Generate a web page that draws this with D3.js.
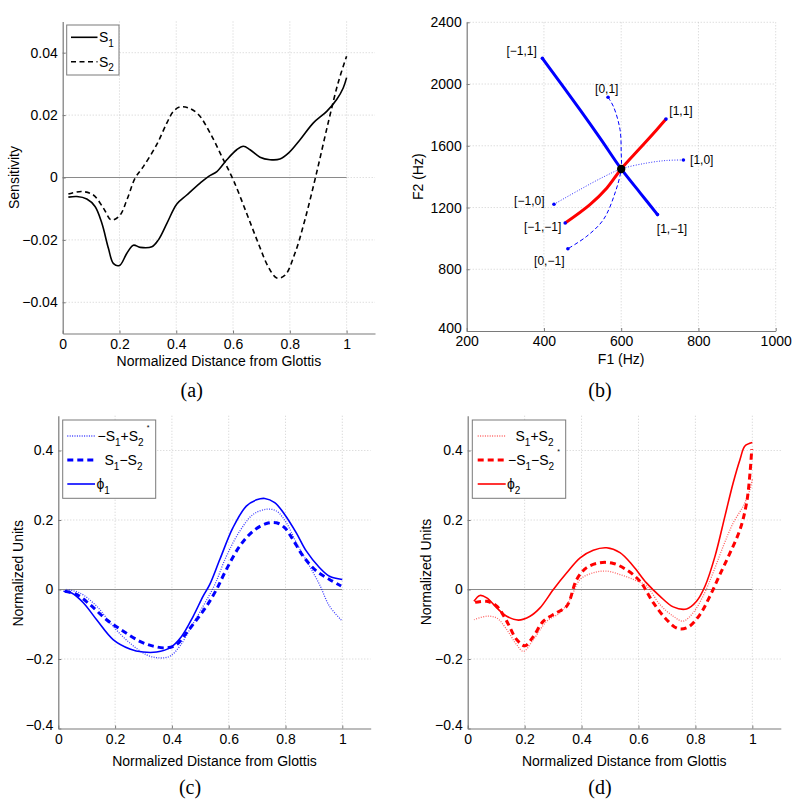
<!DOCTYPE html>
<html><head><meta charset="utf-8">
<script src="https://cdn.jsdelivr.net/npm/d3@7"></script>
<style>body{margin:0;background:#fff} svg text{font-family:"Liberation Sans",Arial,Helvetica,sans-serif}</style>
</head><body><svg id="c" width="800" height="804"></svg>
<script>
// ---------- DATA ----------
// Panel (a): sensitivity functions
const s1X = [0.02,0.05,0.085,0.114,0.138,0.161,0.179,0.2,0.226,0.249,0.273,0.314,0.337,0.367,0.402,0.437,0.484,0.513,0.543,0.578,0.613,0.636,0.66,0.695,0.73,0.765,0.795,0.836,0.883,0.93,0.965,0.988,1.0];
const s1Y = [-0.0063,-0.0061,-0.0069,-0.0093,-0.0147,-0.0227,-0.0276,-0.0282,-0.0243,-0.0217,-0.0224,-0.0222,-0.0200,-0.0147,-0.0085,-0.0056,-0.0018,0.0003,0.0019,0.0057,0.0089,0.0100,0.0089,0.0065,0.0057,0.0059,0.0078,0.0121,0.0175,0.0212,0.0250,0.0287,0.032];
const s2X = [0.02,0.067,0.108,0.144,0.171,0.2,0.226,0.255,0.284,0.331,0.367,0.39,0.413,0.443,0.478,0.519,0.56,0.601,0.648,0.689,0.724,0.754,0.783,0.818,0.853,0.894,0.935,0.97,1.0];
const s2Y = [-0.0053,-0.0045,-0.0056,-0.0099,-0.0136,-0.0123,-0.0072,-0.0002,0.0035,0.0105,0.0175,0.0212,0.0226,0.0223,0.0202,0.0143,0.0068,-0.0008,-0.0115,-0.0211,-0.0286,-0.0322,-0.0313,-0.0243,-0.0136,0.0014,0.0175,0.0303,0.0389];
const aXTicks = [0,0.2,0.4,0.6,0.8,1];
const aYTicks = [-0.04,-0.02,0,0.02,0.04];

// Panel (b): formant trajectories (F1, F2 in Hz)
const blueThickF1 = [396,495,548,600,650,694];
const blueThickF2 = [2167,1828,1640,1450,1292,1154];
const redThickF1 = [455,519,563,600,649,692,716];
const redThickF2 = [1100,1219,1327,1450,1585,1704,1773];
const blueDashF1 = [566,580,597,600,600,584,554,511,462];
const blueDashF2 = [1914,1854,1704,1553,1450,1294,1122,1014,933];
const blueDotF1 = [426,493,554,600,666,718,761];
const blueDotF2 = [1221,1316,1398,1450,1488,1505,1508];
const centerF1 = 600, centerF2 = 1450;
const endNames = ["[−1,1]","[0,1]","[1,1]","[1,0]","[−1,0]","[−1,−1]","[1,−1]","[0,−1]"];
const endF1 = [396,566,716,761,426,455,694,462];
const endF2 = [2167,1914,1773,1508,1221,1100,1154,933];
const bXTicks = [200,400,600,800,1000];
const bYTicks = [400,800,1200,1600,2000,2400];

// Panel (c)
const phi1X = [0.018,0.047,0.088,0.135,0.193,0.252,0.299,0.346,0.393,0.434,0.475,0.51,0.533,0.569,0.615,0.662,0.698,0.727,0.762,0.797,0.838,0.873,0.92,0.955,1.0];
const phi1Y = [-0.005,-0.01,-0.038,-0.087,-0.144,-0.171,-0.18,-0.18,-0.168,-0.135,-0.077,-0.019,0.014,0.087,0.178,0.24,0.258,0.262,0.25,0.216,0.163,0.111,0.0625,0.038,0.029];
const s1ms2X = [0.023,0.064,0.111,0.17,0.229,0.287,0.334,0.381,0.416,0.451,0.487,0.522,0.557,0.592,0.639,0.686,0.733,0.768,0.797,0.826,0.862,0.909,0.955,0.996];
const s1ms2Y = [-0.005,-0.014,-0.043,-0.087,-0.12,-0.149,-0.163,-0.168,-0.159,-0.125,-0.087,-0.048,0.0,0.058,0.125,0.168,0.19,0.192,0.178,0.144,0.096,0.053,0.029,0.01];
const ms1ps2X = [0.029,0.076,0.135,0.193,0.252,0.311,0.358,0.393,0.428,0.469,0.51,0.551,0.592,0.639,0.686,0.733,0.768,0.803,0.838,0.885,0.92,0.955,1.0];
const ms1ps2Y = [0.0,-0.01,-0.048,-0.106,-0.154,-0.188,-0.197,-0.192,-0.163,-0.106,-0.048,0.014,0.096,0.168,0.216,0.231,0.226,0.192,0.135,0.067,0.014,-0.048,-0.091];

// Panel (d)
const phi2X = [0.022,0.043,0.067,0.102,0.137,0.178,0.219,0.254,0.301,0.348,0.395,0.441,0.488,0.535,0.582,0.628,0.675,0.722,0.769,0.804,0.834,0.869,0.904,0.933,0.957,0.974,1.0];
const phi2Y = [-0.034,-0.017,-0.024,-0.053,-0.077,-0.088,-0.077,-0.053,0.0,0.048,0.091,0.113,0.12,0.106,0.067,0.019,-0.019,-0.05,-0.056,-0.034,0.01,0.096,0.212,0.308,0.375,0.413,0.423];
const ms1ms2X = [0.026,0.067,0.102,0.137,0.172,0.201,0.231,0.266,0.312,0.348,0.383,0.418,0.465,0.512,0.559,0.605,0.652,0.699,0.74,0.775,0.816,0.851,0.886,0.922,0.957,0.98,0.992,0.998];
const ms1ms2Y = [-0.037,-0.034,-0.048,-0.091,-0.144,-0.162,-0.135,-0.091,-0.067,-0.048,0.029,0.063,0.077,0.075,0.056,0.024,-0.038,-0.087,-0.113,-0.108,-0.072,-0.019,0.043,0.106,0.173,0.25,0.337,0.404];
const s1ps2X = [0.022,0.067,0.102,0.137,0.172,0.196,0.231,0.278,0.324,0.359,0.395,0.441,0.488,0.535,0.582,0.628,0.675,0.722,0.757,0.792,0.827,0.862,0.898,0.933,0.968,0.992,1.0];
const s1ps2Y = [-0.087,-0.077,-0.082,-0.115,-0.159,-0.178,-0.144,-0.091,-0.067,-0.029,0.029,0.048,0.053,0.043,0.029,0.01,-0.043,-0.077,-0.091,-0.067,-0.019,0.048,0.125,0.192,0.24,0.288,0.317];
const cdXTicks = [0,0.2,0.4,0.6,0.8,1];
const cdYTicks = [-0.4,-0.2,0,0.2,0.4];

// ---------- DRAWING ----------
const svg = d3.select("#c");
const AX = "#7a7a7a", GRID = "#c4c4c4", FS = 14;
const fmt = d => d === 0 ? "0" : String(d).replace("-", "\u2212");
const zip = (xs, ys) => xs.map((v, i) => [v, ys[i]]);

function panel(cfg) {
  const x = d3.scaleLinear().domain(cfg.xd).range([cfg.l, cfg.r]);
  const y = d3.scaleLinear().domain(cfg.yd).range([cfg.b, cfg.t]);
  const g = svg.append("g");
  g.selectAll("line.gx").data(cfg.xt.filter(d => d !== cfg.xd[0])).join("line").attr("class", "gx")
    .attr("x1", d => x(d)).attr("x2", d => x(d)).attr("y1", cfg.t).attr("y2", cfg.b)
    .attr("stroke", GRID).attr("stroke-width", 0.8).attr("stroke-dasharray", "1,2");
  g.selectAll("line.gy").data(cfg.yt.filter(d => d !== cfg.yd[0])).join("line").attr("class", "gy")
    .attr("x1", cfg.l).attr("x2", cfg.r).attr("y1", d => y(d)).attr("y2", d => y(d))
    .attr("stroke", GRID).attr("stroke-width", 0.8).attr("stroke-dasharray", "1,2");
  if (cfg.zero) {
    g.append("line").attr("x1", x(0)).attr("x2", x(1)).attr("y1", y(0)).attr("y2", y(0))
      .attr("stroke", "#8a8a8a").attr("stroke-width", 1);
  }
  const curves = g.append("g");
  const axG = g.append("g");
  const xa = axG.append("g").attr("transform", `translate(0,${cfg.b})`)
    .call(d3.axisBottom(x).tickValues(cfg.xt).tickFormat(fmt).tickSize(-3).tickSizeOuter(0).tickPadding(5.5));
  const ya = axG.append("g").attr("transform", `translate(${cfg.l},0)`)
    .call(d3.axisLeft(y).tickValues(cfg.yt).tickFormat(fmt).tickSize(-3).tickSizeOuter(0).tickPadding(5));
  [xa, ya].forEach(a => {
    a.select(".domain").attr("stroke", AX).attr("stroke-width", 1.2);
    a.selectAll(".tick line").attr("stroke", AX);
    a.selectAll(".tick text").attr("fill", "#000").style("font-size", FS + "px")
      .style("font-family", '"Liberation Sans",Arial,sans-serif');
  });
  // lowest y tick label sits slightly higher, as in the reference corner
  ya.selectAll(".tick text").filter(d => d === cfg.yd[0]).attr("dy", "0.1em");
  // axis titles
  g.append("text").attr("x", (cfg.l + cfg.r) / 2).attr("y", cfg.xlY).attr("text-anchor", "middle")
    .style("font-size", FS + "px").text(cfg.xlabel);
  g.append("text").attr("transform", `translate(${cfg.ylX},${cfg.ylC}) rotate(-90)`).attr("text-anchor", "middle")
    .style("font-size", FS + "px").text(cfg.ylabel);
  svg.append("text").attr("x", cfg.capX).attr("y", cfg.capY).attr("text-anchor", "middle")
    .style("font-family", '"Liberation Serif","Times New Roman",serif').style("font-size", "20px").text(cfg.cap);
  return { g: curves, x, y };
}

function drawLine(p, pts, style, curve) {
  const line = d3.line().x(d => p.x(d[0])).y(d => p.y(d[1])).curve(curve || d3.curveCatmullRom.alpha(0.5));
  p.g.append("path").datum(pts).attr("d", line).attr("fill", "none")
    .attr("stroke", style.c).attr("stroke-width", style.w)
    .attr("stroke-dasharray", style.dash || null).attr("stroke-opacity", style.o || 1);
}

// rich text with subscripts / superscripts
function richText(sel, x, y, parts) {
  const t = sel.append("text").attr("x", x).attr("y", y).style("font-size", FS + "px");
  let cur = 0;
  parts.forEach(p => {
    let target = 0, fs = FS, dx = 0;
    if (p.k === "sub") { target = 4.5; fs = 10; }
    if (p.k === "sup") { target = -11; fs = 7; dx = 3; }
    t.append("tspan").attr("dy", target - cur).attr("dx", dx).style("font-size", fs + "px").text(p.t);
    cur = target;
  });
  return t;
}

function legend(p, box, rows) {
  const lg = svg.append("g");
  lg.append("rect").attr("x", box.x0).attr("y", box.y0).attr("width", box.x1 - box.x0).attr("height", box.y1 - box.y0)
    .attr("fill", "#fff").attr("stroke", AX).attr("stroke-width", 1);
  rows.forEach(r => {
    lg.append("line").attr("x1", box.lx0).attr("x2", r.lx1 || box.lx1).attr("y1", r.y).attr("y2", r.y)
      .attr("stroke", r.s.c).attr("stroke-width", r.s.w).attr("stroke-dasharray", r.s.dash || null)
      .attr("stroke-opacity", r.s.o || 1);
    richText(lg, r.tx, r.y + 5, r.parts);
  });
}

// ---- Panel (a)
const pa = panel({ l: 62.7, r: 375, t: 21.5, b: 333.5, xd: [0, 1.1], yd: [-0.05, 0.05], xt: aXTicks, yt: aYTicks,
  zero: true, xlabel: "Normalized Distance from Glottis", xlY: 366, ylabel: "Sensitivity", ylX: 18.5, ylC: 177.5,
  cap: "(a)", capX: 191.7, capY: 397 });
const stS1 = { c: "#000", w: 1.6 }, stS2 = { c: "#000", w: 1.6, dash: "5,3.5" };
drawLine(pa, zip(s1X, s1Y), stS1);
drawLine(pa, zip(s2X, s2Y), stS2);
legend(pa, { x0: 66.7, x1: 119, y0: 25, y1: 75, lx0: 71, lx1: 97.5 }, [
  { y: 37.3, s: stS1, tx: 99, parts: [{ t: "S" }, { t: "1", k: "sub" }] },
  { y: 61.7, s: stS2, tx: 99, parts: [{ t: "S" }, { t: "2", k: "sub" }] }
]);

// ---- Panel (b)
const pb = panel({ l: 466.7, r: 775.7, t: 22.3, b: 331, xd: [200, 1000], yd: [400, 2400], xt: bXTicks, yt: bYTicks,
  zero: false, xlabel: "F1 (Hz)", xlY: 364, ylabel: "F2 (Hz)", ylX: 423, ylC: 176.7,
  cap: "(b)", capX: 600, capY: 397 });
const cr = d3.curveCatmullRom.alpha(0.5);
drawLine(pb, zip(blueDashF1, blueDashF2), { c: "#0000ff", w: 1, dash: "4,2.5" }, cr);
drawLine(pb, zip(blueDotF1, blueDotF2), { c: "#0000ff", w: 1, dash: "1,1.6", o: 0.8 }, cr);
drawLine(pb, zip(blueThickF1, blueThickF2), { c: "#0000ff", w: 3 }, cr);
drawLine(pb, zip(redThickF1, redThickF2), { c: "#ff0000", w: 3 }, cr);
pb.g.selectAll("circle.end").data(endF1.map((f, i) => [f, endF2[i]])).join("circle").attr("class", "end")
  .attr("cx", d => pb.x(d[0])).attr("cy", d => pb.y(d[1])).attr("r", 1.8).attr("fill", "#0000ff");
pb.g.append("circle").attr("cx", pb.x(centerF1)).attr("cy", pb.y(centerF2)).attr("r", 4.2).attr("fill", "#000");
const labOff = [[-20.7, -7.6], [-1.3, -8.2], [15, -8], [18.4, 0], [-24.7, -4], [-22.5, 4], [14.5, 13.7], [-18.6, 11.5]];
pb.g.selectAll("text.lab").data(endNames).join("text").attr("class", "lab")
  .attr("x", (d, i) => pb.x(endF1[i]) + labOff[i][0]).attr("y", (d, i) => pb.y(endF2[i]) + labOff[i][1])
  .attr("dy", "0.36em").attr("text-anchor", "middle").style("font-size", "12px").text(d => d);

// ---- Panel (c)
const pc = panel({ l: 58.3, r: 370.7, t: 415.75, b: 728.5, xd: [0, 1.1], yd: [-0.4, 0.5], xt: cdXTicks, yt: cdYTicks,
  zero: true, xlabel: "Normalized Distance from Glottis", xlY: 766, ylabel: "Normalized Units", ylX: 23, ylC: 573.3,
  cap: "(c)", capX: 190, capY: 794 });
const bDot = { c: "#0000ff", w: 1.3, dash: "1,1.4", o: 0.75 }, bDash = { c: "#0000ff", w: 3, dash: "6,4" }, bSol = { c: "#0000ff", w: 1.6 };
drawLine(pc, zip(ms1ps2X, ms1ps2Y), bDot);
drawLine(pc, zip(s1ms2X, s1ms2Y), bDash);
drawLine(pc, zip(phi1X, phi1Y), bSol);
legend(pc, { x0: 62.7, x1: 155.7, y0: 420, y1: 498.3, lx0: 67.3, lx1: 95 }, [
  { y: 436, s: bDot, tx: 97.5, parts: [{ t: "\u2212S" }, { t: "1", k: "sub" }, { t: "+S" }, { t: "2", k: "sub" }, { t: "*", k: "sup" }] },
  { y: 460, s: bDash, tx: 104.5, parts: [{ t: "S" }, { t: "1", k: "sub" }, { t: "\u2212S" }, { t: "2", k: "sub" }] },
  { y: 484, s: bSol, tx: 96.5, parts: [{ t: "\u03d5" }, { t: "1", k: "sub" }] }
]);

// ---- Panel (d)
const pd = panel({ l: 467.7, r: 780.8, t: 415.75, b: 728.5, xd: [0, 1.1], yd: [-0.4, 0.5], xt: cdXTicks, yt: cdYTicks,
  zero: true, xlabel: "Normalized Distance from Glottis", xlY: 766, ylabel: "Normalized Units", ylX: 431, ylC: 572,
  cap: "(d)", capX: 600, capY: 794 });
const rDot = { c: "#ff0000", w: 1.3, dash: "1,1.4", o: 0.6 }, rDash = { c: "#ff0000", w: 3, dash: "6,4" }, rSol = { c: "#ff0000", w: 1.6 };
drawLine(pd, zip(s1ps2X, s1ps2Y), rDot);
drawLine(pd, zip(ms1ms2X, ms1ms2Y), rDash);
drawLine(pd, zip(phi2X, phi2Y), rSol);
legend(pd, { x0: 472.3, x1: 565.7, y0: 420, y1: 498.3, lx0: 477.7, lx1: 505.7 }, [
  { y: 436, s: rDot, tx: 515.5, parts: [{ t: "S" }, { t: "1", k: "sub" }, { t: "+S" }, { t: "2", k: "sub" }] },
  { y: 460, s: rDash, tx: 508, parts: [{ t: "\u2212S" }, { t: "1", k: "sub" }, { t: "\u2212S" }, { t: "2", k: "sub" }, { t: "*", k: "sup" }] },
  { y: 484, s: rSol, tx: 507, parts: [{ t: "\u03d5" }, { t: "2", k: "sub" }] }
]);
</script></body></html>
